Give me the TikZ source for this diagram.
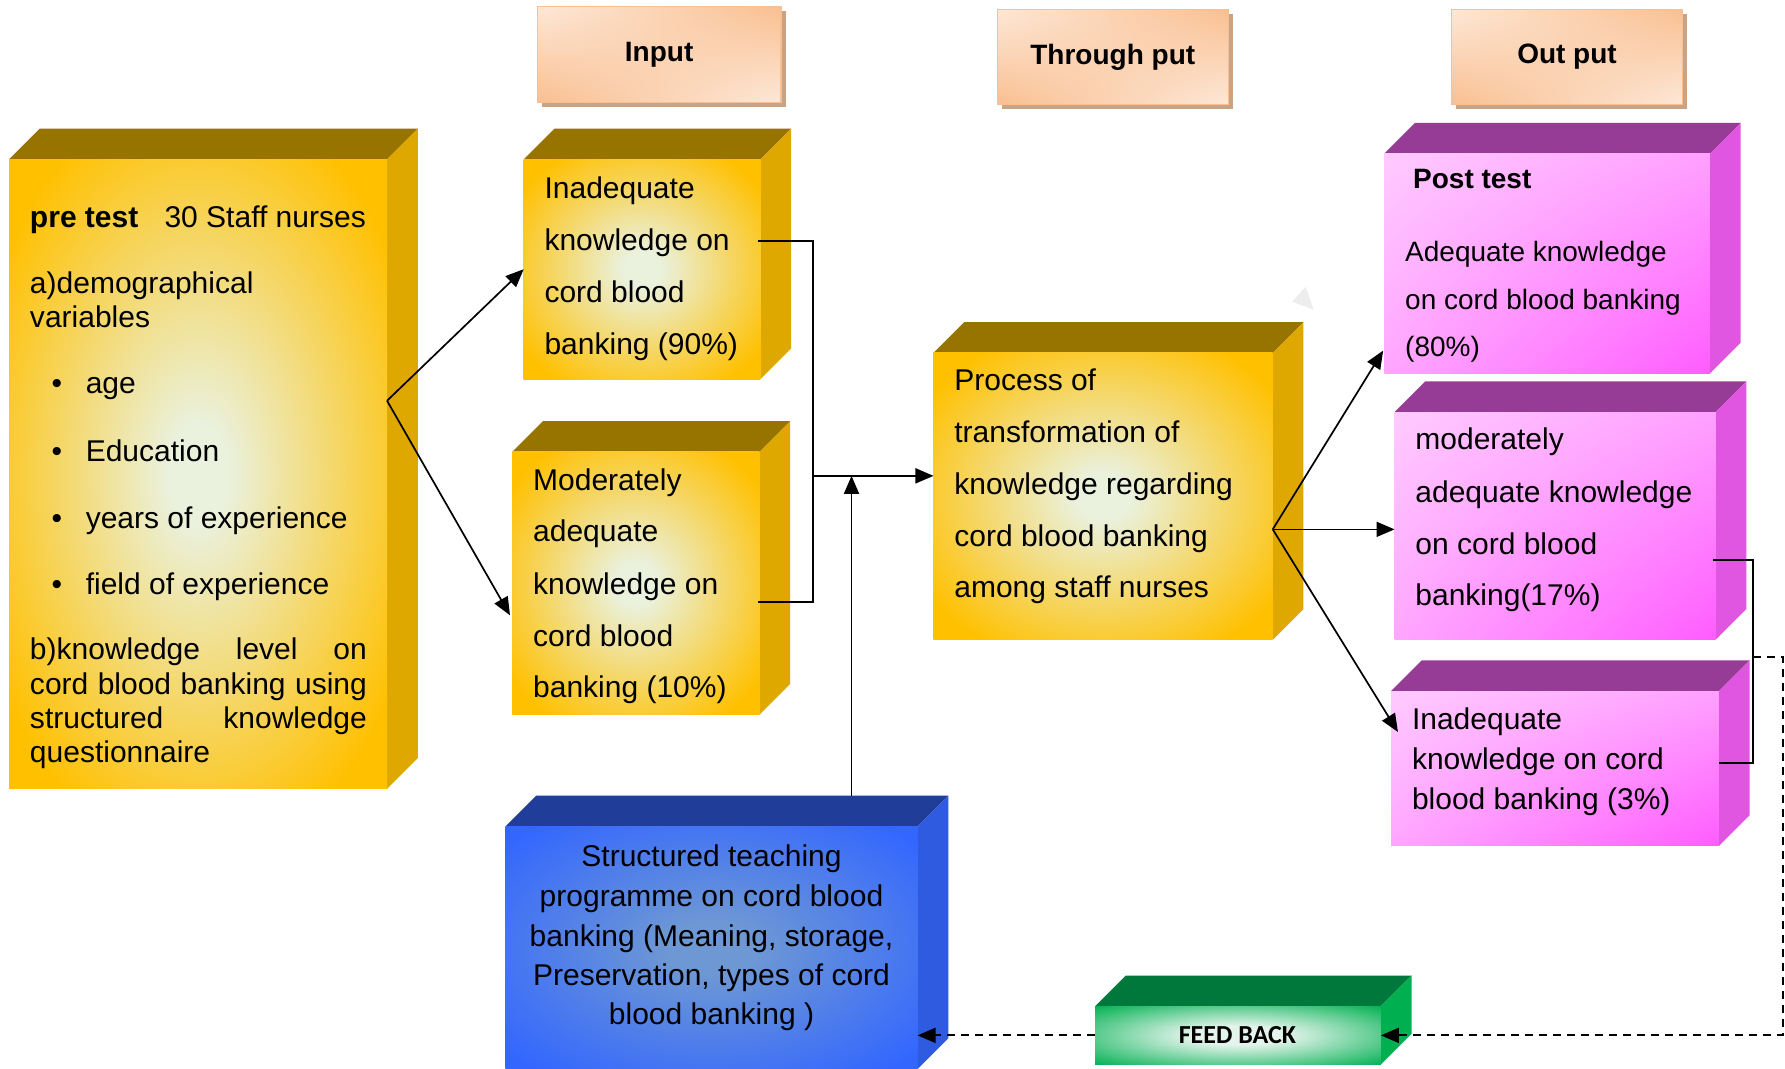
\documentclass[tikz,border=0pt]{standalone}
\usepackage{fontspec}
\setmainfont{Liberation Sans}
\newfontfamily\fbfont{Carlito}
\usetikzlibrary{arrows.meta,calc,fit,shadings}
\definecolor{orF}{HTML}{FFC000}
\definecolor{orC}{HTML}{EAF1DD}
\definecolor{orT}{HTML}{977300}
\definecolor{orS}{HTML}{DFA800}
\definecolor{pkUL}{HTML}{FFCAFF}
\definecolor{pkUR}{HTML}{FFA0FF}
\definecolor{pkLL}{HTML}{FFA6FF}
\definecolor{pkLR}{HTML}{FF5CFF}
\definecolor{pkT}{HTML}{963C96}
\definecolor{pkS}{HTML}{E056E0}
\definecolor{blE}{HTML}{3366FF}
\definecolor{blC}{HTML}{6E98D4}
\definecolor{blT}{HTML}{203E99}
\definecolor{blS}{HTML}{2E5BE0}
\definecolor{grE}{HTML}{00B050}
\definecolor{grC}{HTML}{E4F4EC}
\definecolor{grT}{HTML}{00783B}
\definecolor{grS}{HTML}{00B050}
\definecolor{hdL}{HTML}{FDE8D8}
\definecolor{hdD}{HTML}{F9BF90}
\definecolor{hdSh}{HTML}{C9A386}
\pgfdeclareradialshading{orrad}{\pgfpoint{0bp}{0bp}}{color(0bp)=(orC); color(4bp)=(orC); color(31bp)=(orF); color(50bp)=(orF)}
\pgfdeclareradialshading{blrad}{\pgfpoint{0bp}{0bp}}{color(0bp)=(blC); color(5bp)=(blC); color(33bp)=(blE); color(50bp)=(blE)}
\pgfdeclareradialshading{grrad}{\pgfpoint{0bp}{0bp}}{color(0bp)=(grC); color(8bp)=(grC); color(36bp)=(grE); color(50bp)=(grE)}
\newcommand\mkcube[7]{%
  \fill[#7top] (#2,#3) -- (#2+#6,#3-#6) -- (#4+#6,#3-#6) -- (#4,#3) -- cycle;
  \fill[#7side] (#4,#3) -- (#4+#6,#3-#6) -- (#4+#6,#5-#6) -- (#4,#5) -- cycle;
  \node[#7front, fit={(#2,#3) (#4,#5)}] (#1) {};
}
\newcommand\mkhead[6]{%
  \fill[hdSh] (#2+4,#3+4) rectangle (#4+4,#5+4);
  \node[hdfront, fit={(#2,#3) (#4,#5)}] (#1) {};
  \node[hdtxt] (#1t) at (#1.center) {#6};
}
\begin{document}
\begin{tikzpicture}[x=0.02cm,y=-0.02cm,
  fr/.style={inner sep=0pt, outer sep=0pt, shade},
  orfront/.style={fr, shading=orrad},
  ortop/.style={fill=orT}, orside/.style={fill=orS},
  pkfront/.style={fr, upper left=pkUL, upper right=pkUR, lower left=pkLL, lower right=pkLR},
  pktop/.style={fill=pkT}, pkside/.style={fill=pkS},
  blfront/.style={fr, shading=blrad},
  bltop/.style={fill=blT}, blside/.style={fill=blS},
  grfront/.style={fr, shading=grrad},
  grtop/.style={fill=grT}, grside/.style={fill=grS},
  hdfront/.style={fr, draw=hdD, line width=0.6pt, upper left=hdL, upper right=hdD, lower left=hdD, lower right=hdL},
  hdtxt/.style={inner sep=0pt, font=\fontsize{14pt}{17pt}\selectfont\bfseries},
  txt/.style={inner sep=0pt, anchor=base west, font=\fontsize{15pt}{18pt}\selectfont},
  txs/.style={txt, font=\fontsize{14pt}{17pt}\selectfont},
  txc/.style={txt, anchor=base},
  ln/.style={draw=black, line width=0.85pt},
  arr/.style={ln, -{Triangle[length=9pt,width=7.5pt]}},
  dsh/.style={arr, line width=1pt, dash pattern=on 4pt off 3pt},
]
\useasboundingbox (0,0) rectangle (1568,939);
\fill[white] (0,0) rectangle (1568,939);

% header boxes
\mkhead{hin}{472}{6}{686}{90}{Input}
\mkhead{hth}{876}{8}{1079}{92}{Through put}
\mkhead{hout}{1275}{8}{1478}{92}{Out put}

% faint triangle
\fill[black!7] (1135,265) -- (1147,252) -- (1154,272) -- cycle;

% cubes
\mkcube{pre}{8}{140}{340}{693}{27}{or}
\mkcube{in1}{460}{140}{668}{333}{27}{or}
\mkcube{in2}{450}{397}{667}{628}{27}{or}
\mkcube{proc}{820}{310}{1118}{562}{27}{or}
\mkcube{post}{1216}{135}{1502}{328}{27}{pk}
\mkcube{mod}{1225}{362}{1507}{562}{27}{pk}
\mkcube{inad}{1222}{607}{1510}{743}{27}{pk}
\mkcube{stp}{444}{726}{806}{939}{27}{bl}
\mkcube{feed}{962}{884}{1213}{935}{27}{gr}

% pretest text
\node[txt] (p1) at (26,200) {\textbf{pre test}\hspace{0.46cm}30 Staff nurses};
\node[txt] (p2) at (26,258) {a)demographical};
\node[txt] (p3) at (26,288) {variables};
\node[txt] (pb1) at (45,346) {•};
\node[txt] (pi1) at (75,346) {age};
\node[txt] (pb2) at (45,405) {•};
\node[txt] (pi2) at (75,405) {Education};
\node[txt] (pb3) at (45,464) {•};
\node[txt] (pi3) at (75,464) {years of experience};
\node[txt] (pb4) at (45,522) {•};
\node[txt] (pi4) at (75,522) {field of experience};
\node[txt] (p4) at (26,579) {\makebox[5.92cm][s]{b)knowledge level on}};
\node[txt] (p5) at (26,610) {\makebox[5.92cm][s]{cord blood banking using}};
\node[txt] (p6) at (26,640) {\makebox[5.92cm][s]{structured knowledge}};
\node[txt] (p7) at (26,670) {questionnaire};

% input 1
\node[txt] (a1) at (478,174) {Inadequate};
\node[txt] (a2) at (478,220) {knowledge on};
\node[txt] (a3) at (478,266) {cord blood};
\node[txt] (a4) at (478,311) {banking (90\%)};
% input 2
\node[txt] (c1) at (468,431) {Moderately};
\node[txt] (c2) at (468,476) {adequate};
\node[txt] (c3) at (468,522) {knowledge on};
\node[txt] (c4) at (468,568) {cord blood};
\node[txt] (c5) at (468,613) {banking (10\%)};
% process
\node[txt] (d1) at (838,343) {Process of};
\node[txt] (d2) at (838,389) {transformation of};
\node[txt] (d3) at (838,434) {knowledge regarding};
\node[txt] (d4) at (838,480) {cord blood banking};
\node[txt] (d5) at (838,525) {among staff nurses};
% post test
\node[txs] (e0) at (1241,166) {\textbf{Post test}};
\node[txs] (e1) at (1234,230) {Adequate knowledge};
\node[txs] (e2) at (1234,272) {on cord blood banking};
\node[txs] (e3) at (1234,313) {(80\%)};
% moderately
\node[txt] (f1) at (1243,395) {moderately};
\node[txt] (f2) at (1243,441) {adequate knowledge};
\node[txt] (f3) at (1243,487) {on cord blood};
\node[txt] (f4) at (1243,532) {banking(17\%)};
% inadequate
\node[txt] (g1) at (1240,641) {Inadequate};
\node[txt] (g2) at (1240,676) {knowledge on cord};
\node[txt] (g3) at (1240,711) {blood banking (3\%)};
% teaching programme
\node[txc] (h1) at (625,761) {Structured teaching};
\node[txc] (h2) at (625,796) {programme on cord blood};
\node[txc] (h3) at (625,831) {banking (Meaning, storage,};
\node[txc] (h4) at (625,866) {Preservation, types of cord};
\node[txc] (h5) at (625,900) {blood banking )};
% feed back
\node[inner sep=0pt, anchor=base, font=\fbfont\fontsize{13pt}{15pt}\selectfont\bfseries] (fbt) at (1087,917) {FEED BACK};

% connectors
\coordinate (ps) at (340,352);
\draw[arr] (ps) -- (in1.west);
\draw[arr] (ps) -- ($(in2.west)+(-2,28)$);
\coordinate (b1) at (666,212);
\coordinate (b2) at (666,529);
\coordinate (bj) at (714,418);
\draw[ln] (b1) -| (bj) |- (b2);
\draw[arr] (bj) -- (bj -| proc.west);
\coordinate (bt) at (748,699);
\draw[arr] (bt) -- (bt |- bj);
\coordinate (qs) at (1118,465);
\draw[arr] (qs) -- ($(post.south west)+(-1,-20)$);
\draw[arr] (qs) -- (qs -| mod.west);
\draw[arr] (qs) -- ($(inad.north west)+(6,36)$);
\coordinate (r1) at (1505,492);
\coordinate (r2) at (1510,670);
\coordinate (rj) at (1540,577);
\draw[ln] (r1) -| (rj) |- (r2);
\coordinate (rc) at (1566,577);
\draw[dsh] (rj) -- (rc) |- (feed.east);
\draw[dsh] (feed.west) -- (feed.west -| stp.east);
\end{tikzpicture}
\end{document}
